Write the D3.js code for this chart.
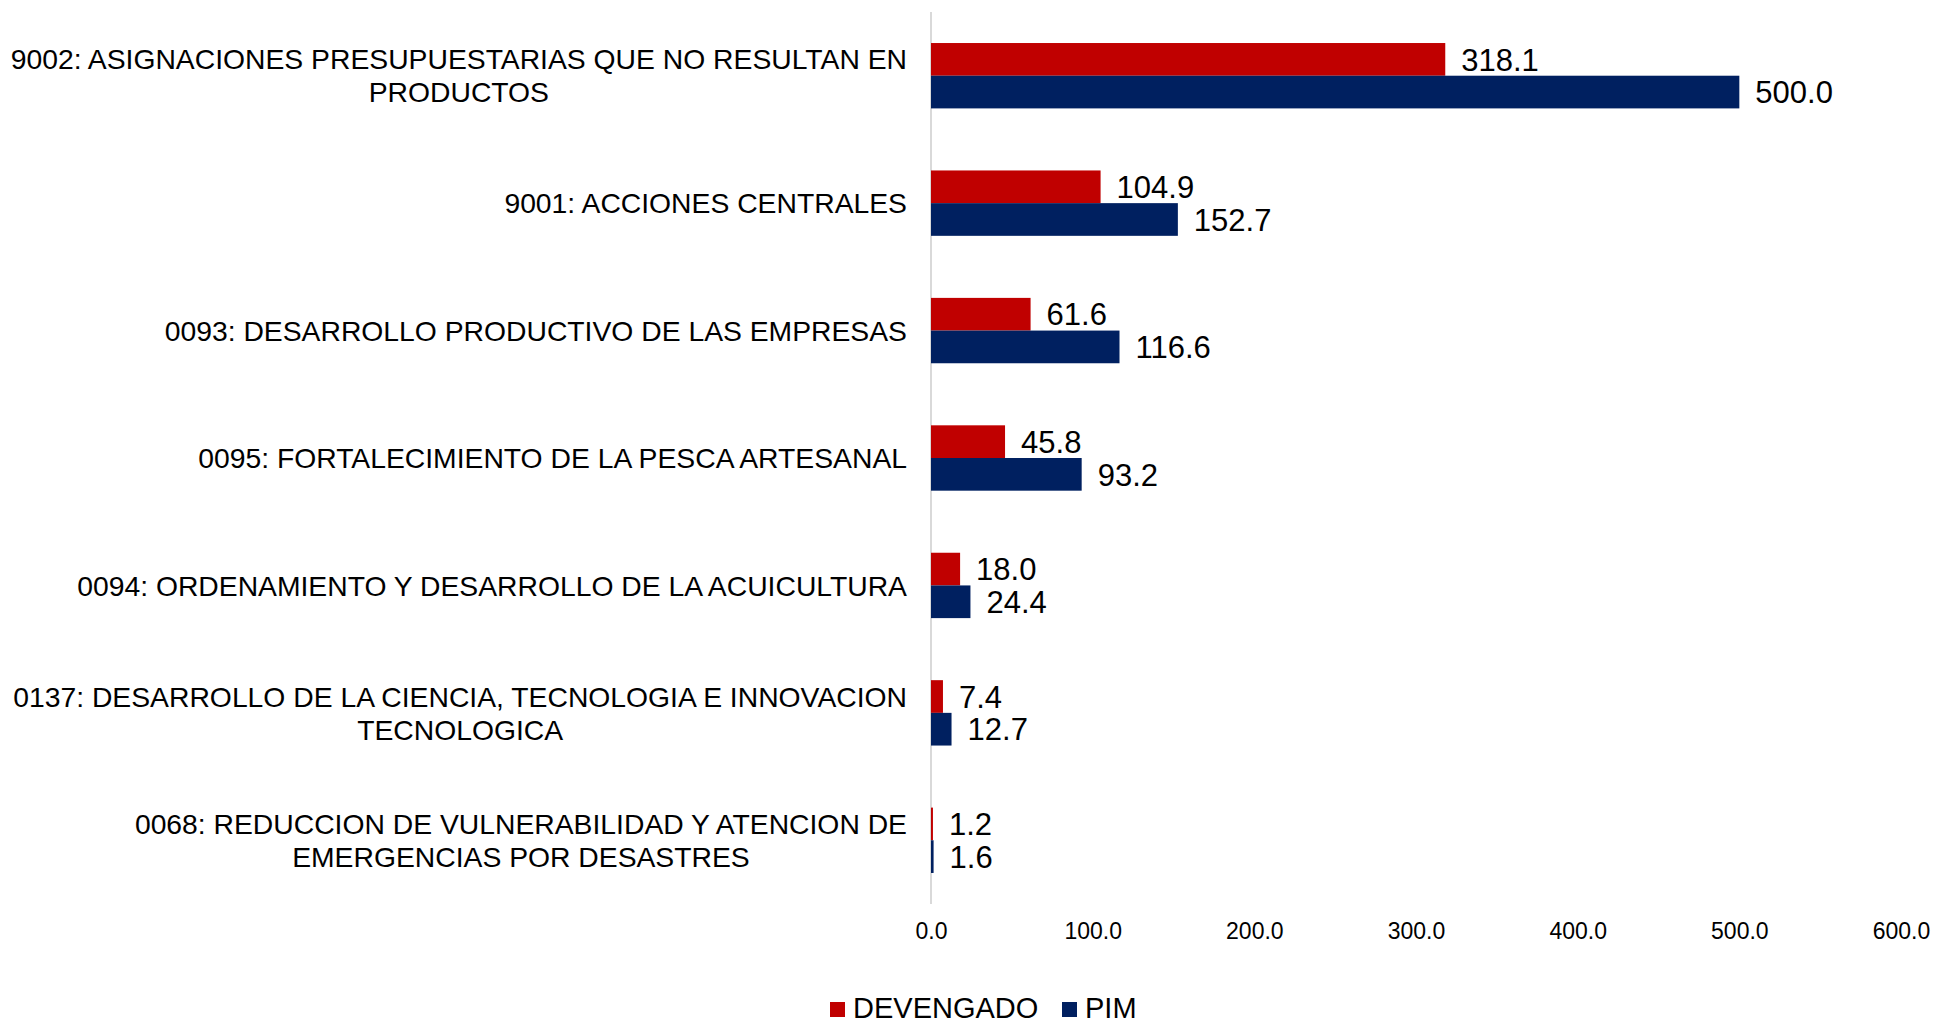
<!DOCTYPE html>
<html><head><meta charset="utf-8">
<script src="https://cdn.jsdelivr.net/npm/d3@7/dist/d3.min.js"></script>
<style>html,body{margin:0;padding:0;background:#fff;overflow:hidden}</style>
</head><body><svg id="c" width="1934" height="1025"></svg>
<script>
const categories = [
  "9002: ASIGNACIONES PRESUPUESTARIAS QUE NO RESULTAN EN\nPRODUCTOS",
  "9001: ACCIONES CENTRALES",
  "0093: DESARROLLO PRODUCTIVO DE LAS EMPRESAS",
  "0095: FORTALECIMIENTO DE LA PESCA ARTESANAL",
  "0094: ORDENAMIENTO Y DESARROLLO DE LA ACUICULTURA",
  "0137: DESARROLLO DE LA CIENCIA, TECNOLOGIA E INNOVACION\nTECNOLOGICA",
  "0068: REDUCCION DE VULNERABILIDAD Y ATENCION DE\nEMERGENCIAS POR DESASTRES"
];
const devengado = [318.1, 104.9, 61.6, 45.8, 18.0, 7.4, 1.2];
const pim = [500.0, 152.7, 116.6, 93.2, 24.4, 12.7, 1.6];
const seriesNames = ["DEVENGADO", "PIM"];
const seriesColors = ["#C00000", "#002060"];
const tickValues = [0, 100, 200, 300, 400, 500, 600];

const svg = d3.select("#c");
const font = "'Liberation Sans', Arial, sans-serif";
const x = d3.scaleLinear().domain([0, 600]).range([931, 1901]);
const y = d3.scaleBand().domain(categories).range([12, 904]).paddingInner(0.487).paddingOuter(0.2435);
const sub = d3.scaleBand().domain(seriesNames).range([0, y.bandwidth()]);

const data = categories.map((c, i) => ({c, vals: [devengado[i], pim[i]]}));

// axis line
svg.append("line").attr("x1", x(0)).attr("x2", x(0)).attr("y1", 12).attr("y2", 904)
  .attr("stroke", "#d9d9d9").attr("stroke-width", 2);

const g = svg.selectAll("g.cat").data(data).enter().append("g").attr("class","cat")
  .attr("transform", d => `translate(0,${y(d.c)})`);

g.selectAll("rect").data(d => d.vals.map((v, j) => ({v, s: seriesNames[j], col: seriesColors[j]})))
  .enter().append("rect")
  .attr("x", x(0)).attr("y", d => sub(d.s))
  .attr("width", d => x(d.v) - x(0)).attr("height", sub.bandwidth())
  .attr("fill", d => d.col);

g.selectAll("text.val").data(d => d.vals.map((v, j) => ({v, s: seriesNames[j]})))
  .enter().append("text").attr("class","val")
  .attr("x", d => x(d.v) + 16).attr("y", d => sub(d.s) + sub.bandwidth()/2)
  .attr("dy", "0.36em")
  .attr("font-family", font).attr("font-size", 31).attr("fill", "#000")
  .text(d => d.v.toFixed(1));

// category labels
const lab = svg.selectAll("text.cat").data(categories).enter().append("text").attr("class","cat")
  .attr("font-family", font).attr("font-size", 28.3).attr("fill", "#000")
  .attr("text-anchor", "middle");
lab.each(function(c) {
  const lines = c.split("\n");
  const t = d3.select(this);
  const cy = y(c) + y.bandwidth()/2;
  const lh = 33;
  lines.forEach((ln, k) => {
    t.append("tspan").attr("y", cy + (k - (lines.length-1)/2) * lh).attr("dy", "0.36em").text(ln);
  });
});
lab.each(function(c) {
  const spans = d3.select(this).selectAll("tspan").nodes();
  const maxW = Math.max(...spans.map(s => s.getComputedTextLength()));
  const right = 907;
  spans.forEach(s => d3.select(s).attr("x", right - maxW/2));
});

// x axis tick labels
const ax = svg.append("g").attr("transform", "translate(0,931)")
  .call(d3.axisBottom(x).tickValues(tickValues).tickFormat(d3.format(".1f")).tickSize(0));
ax.select(".domain").remove();
ax.selectAll("text").attr("font-family", font).attr("font-size", 23).attr("fill", "#000").attr("dy", "0.36em").attr("y", 0);

// legend
const leg = svg.append("g");
const legX = [830, 1062];
seriesNames.forEach((s, i) => {
  leg.append("rect").attr("x", legX[i]).attr("y", 1002).attr("width", 15).attr("height", 15).attr("fill", seriesColors[i]);
  leg.append("text").attr("x", legX[i] + 23).attr("y", 1008).attr("dy", "0.36em")
    .attr("font-family", font).attr("font-size", 29).attr("fill", "#000").text(s);
});
</script></body></html>
